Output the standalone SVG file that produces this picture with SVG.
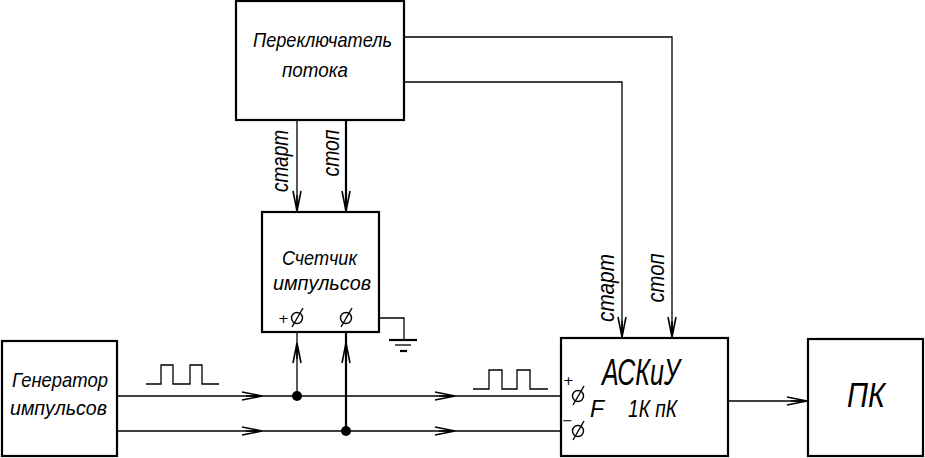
<svg xmlns="http://www.w3.org/2000/svg" xmlns:xlink="http://www.w3.org/1999/xlink" width="925" height="458" viewBox="0 0 925 458">
<style>
.box{fill:#fff;stroke:#000;stroke-width:2.2}
.ln{fill:none;stroke:#000;stroke-width:1.3}
.thk{fill:none;stroke:#000;stroke-width:2.2}
.ah{fill:none;stroke:#000;stroke-width:1.6;stroke-linejoin:miter}
.t{font-family:"Liberation Sans","DejaVu Sans",sans-serif;font-style:italic;font-size:21px;fill:#000}
.r{font-size:23px}
.s{font-family:"DejaVu Sans","Liberation Sans",sans-serif;font-size:13px;fill:#000}
.term{fill:none;stroke:#000;stroke-width:1.4}
</style>
<defs>
<path id="ah" class="ah" d="M-20,-4 L0,0 L-20,4 M-16,0 L0,0"/>
<g id="phi"><circle class="term" cx="0" cy="0" r="5.5"/><line class="term" x1="-5" y1="9" x2="6" y2="-10"/></g>
</defs>
<rect width="925" height="458" fill="#fff"/>

<g id="connectors">
<polyline class="ln" points="404,37 672,37 672,338"/>
<polyline class="ln" points="404,82 622,82 622,338"/>
<line class="ln" x1="297" y1="120" x2="297" y2="212"/>
<line class="thk" x1="346" y1="120" x2="346" y2="212"/>
<line class="ln" x1="297" y1="323" x2="297" y2="396"/>
<line class="thk" x1="346" y1="323" x2="346" y2="431"/>
<polyline class="ln" points="351,318 404,318 404,340"/>
<line class="thk" x1="389" y1="340" x2="417" y2="340"/>
<line class="ln" x1="395" y1="345" x2="411" y2="345"/>
<line class="thk" x1="400" y1="351" x2="407" y2="351"/>
<line class="ln" x1="117" y1="396" x2="573" y2="396"/>
<line class="ln" x1="117" y1="431" x2="573" y2="431"/>
<line class="ln" x1="728" y1="401" x2="808" y2="401"/>
<circle cx="297" cy="396" r="5" fill="#000"/>
<circle cx="346" cy="431" r="5" fill="#000"/>
<use xlink:href="#ah" transform="translate(297,211) rotate(90)"/>
<use xlink:href="#ah" transform="translate(346,211) rotate(90)"/>
<use xlink:href="#ah" transform="translate(297,343) rotate(-90)"/>
<use xlink:href="#ah" transform="translate(346,343) rotate(-90)"/>
<use xlink:href="#ah" transform="translate(622,337) rotate(90)"/>
<use xlink:href="#ah" transform="translate(672,337) rotate(90)"/>
<use xlink:href="#ah" transform="translate(262,396)"/>
<use xlink:href="#ah" transform="translate(262,431)"/>
<use xlink:href="#ah" transform="translate(455,396)"/>
<use xlink:href="#ah" transform="translate(455,431)"/>
<use xlink:href="#ah" transform="translate(807,401)"/>
<path class="ln" d="M146,384 H161 V365 H173 V384 H190 V365 H202 V384 H219"/>
<path class="ln" d="M473,389 H489 V370 H502 V389 H517 V370 H530 V389 H548"/>
<text class="t r" transform="translate(288,161) rotate(-90)" text-anchor="middle" textLength="62" lengthAdjust="spacingAndGlyphs">старт</text>
<text class="t r" transform="translate(339,153) rotate(-90)" text-anchor="middle" textLength="47" lengthAdjust="spacingAndGlyphs">стоп</text>
<text class="t r" transform="translate(614,288) rotate(-90)" text-anchor="middle" textLength="68" lengthAdjust="spacingAndGlyphs">старт</text>
<text class="t r" transform="translate(664,278) rotate(-90)" text-anchor="middle" textLength="49" lengthAdjust="spacingAndGlyphs">стоп</text>
</g>

<g id="switch">
<rect class="box" x="236" y="1" width="168" height="119"/>
<text class="t" x="253" y="47" textLength="139" lengthAdjust="spacingAndGlyphs">Переключатель</text>
<text class="t" x="282" y="77" textLength="66" lengthAdjust="spacingAndGlyphs">потока</text>
</g>

<g id="counter">
<rect class="box" x="262" y="212" width="117" height="120"/>
<text class="t" x="282" y="265" textLength="75" lengthAdjust="spacingAndGlyphs">Счетчик</text>
<text class="t" x="273" y="290" textLength="98" lengthAdjust="spacingAndGlyphs">импульсов</text>
<text class="s" x="278" y="323">+</text>
<use xlink:href="#phi" transform="translate(297,318)"/>
<use xlink:href="#phi" transform="translate(346,318)"/>
</g>

<g id="generator">
<rect class="box" x="2" y="341" width="115" height="115"/>
<text class="t" x="12" y="387" textLength="96" lengthAdjust="spacingAndGlyphs">Генератор</text>
<text class="t" x="10" y="415" textLength="97" lengthAdjust="spacingAndGlyphs">импульсов</text>
</g>

<g id="askiu">
<rect class="box" x="561" y="338" width="167" height="118"/>
<text class="t" x="602" y="385" style="font-size:37px" textLength="78" lengthAdjust="spacingAndGlyphs">АСКиУ</text>
<text class="t" x="590" y="417" style="font-size:23px">F</text>
<text class="t" x="628" y="417" style="font-size:23px" textLength="49" lengthAdjust="spacingAndGlyphs">1К пК</text>
<text class="s" x="563" y="385">+</text>
<text class="s" x="562" y="425">−</text>
<use xlink:href="#phi" transform="translate(578,396)"/>
<use xlink:href="#phi" transform="translate(578,431)"/>
</g>

<g id="pc">
<rect class="box" x="808" y="339" width="115" height="117"/>
<text class="t" x="847" y="407" style="font-size:35px" textLength="38" lengthAdjust="spacingAndGlyphs">ПК</text>
</g>
</svg>
